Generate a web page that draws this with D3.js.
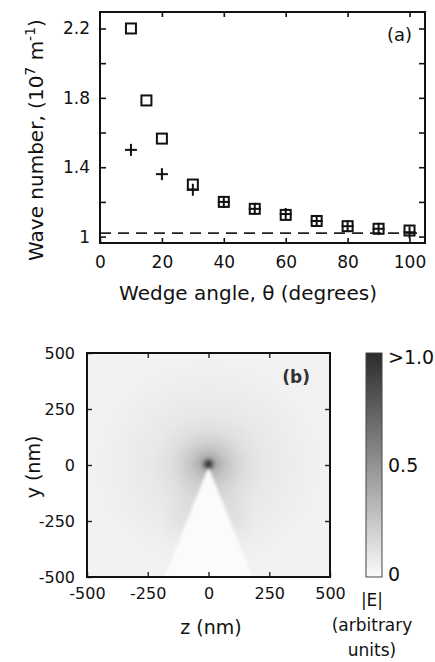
<!DOCTYPE html>
<html>
<head>
<meta charset="utf-8">
<script src="https://d3js.org/d3.v7.min.js"></script>
<style>
  body { margin: 0; padding: 0; background: #fff; overflow: hidden; }
  svg text { font-family: 'DejaVu Sans', sans-serif; fill: #111; }
</style>
</head>
<body>
<svg id="chart" width="435" height="662"></svg>
<script>
// ---- panel (a) data: wave number vs wedge angle
var squareAngles = [10, 15, 20, 30, 40, 50, 60, 70, 80, 90, 100];
var squareK = [2.20, 1.785, 1.565, 1.30, 1.20, 1.16, 1.125, 1.09, 1.06, 1.045, 1.035];
var crossAngles = [10, 20, 30, 40, 50, 60, 70, 80, 90, 100];
var crossK = [1.50, 1.36, 1.27, 1.20, 1.16, 1.13, 1.09, 1.06, 1.045, 1.025];
var dashK = 1.02;
var xTicksA = [0, 20, 40, 60, 80, 100];
var yTicksA = [1.0, 1.2, 1.4, 1.6, 1.8, 2.0, 2.2];
var yLabelsA = [1.0, 1.4, 1.8, 2.2];

// ---- panel (b) data: |E| around the wedge tip
var fieldR = [0, 8, 20, 40, 70, 110, 160, 230, 320, 450, 700];     // nm from tip
var fieldE = [0.95, 0.8, 0.58, 0.4, 0.27, 0.19, 0.13, 0.09, 0.07, 0.05, 0.04];
var wedgeAngle = 40;    // degrees
var ticksB = [-500, -250, 0, 250, 500];
var cbarTicks = [0, 0.5, 1.0];
var cbarLabels = ["0", "0.5", ">1.0"];

var svg = d3.select("#chart");

// ================= panel (a) =================
var xA = d3.scaleLinear().domain([0, 105]).range([100, 425]);
var yA = d3.scaleLinear().domain([0.963, 2.295]).range([243, 12]);

var gA = svg.append("g");

gA.append("g")
  .attr("transform", "translate(0,243)")
  .call(d3.axisBottom(xA).tickValues(xTicksA).tickSizeInner(-5).tickSizeOuter(0).tickPadding(13))
  .call(g => g.select(".domain").remove())
  .call(g => g.selectAll("text").style("font-size", "17px"));
gA.append("g")
  .attr("transform", "translate(0,12)")
  .call(d3.axisTop(xA).tickValues(xTicksA.slice(1)).tickSize(-5).tickFormat(""))
  .call(g => g.select(".domain").remove());

gA.append("g")
  .attr("transform", "translate(100,0)")
  .call(d3.axisLeft(yA).tickValues(yTicksA).tickSizeInner(-6).tickSizeOuter(0).tickPadding(10)
        .tickFormat(d => yLabelsA.some(v => Math.abs(v - d) < 1e-9) ? (d === 1 ? "1" : d3.format(".1f")(d)) : ""))
  .call(g => g.select(".domain").remove())
  .call(g => g.selectAll("text").style("font-size", "17px"));
gA.append("g")
  .attr("transform", "translate(425,0)")
  .call(d3.axisRight(yA).tickValues(yTicksA).tickSize(-6).tickFormat(""))
  .call(g => g.select(".domain").remove());

gA.selectAll(".tick line").attr("stroke", "#111").attr("stroke-width", 1.6);

// dashed reference line
gA.append("line")
  .attr("x1", xA(0)).attr("x2", xA(105))
  .attr("y1", yA(dashK)).attr("y2", yA(dashK))
  .attr("stroke", "#222").attr("stroke-width", 1.7)
  .attr("stroke-dasharray", "11,7");

// squares
var sq = 10;
gA.selectAll("rect.sq")
  .data(squareAngles)
  .enter().append("rect")
  .attr("class", "sq")
  .attr("x", (d) => xA(d) - sq / 2)
  .attr("y", (d, i) => yA(squareK[i]) - sq / 2)
  .attr("width", sq).attr("height", sq)
  .attr("fill", "none").attr("stroke", "#111").attr("stroke-width", 2);

// crosses
var cr = 6;
var cross = gA.selectAll("g.cr")
  .data(crossAngles)
  .enter().append("g")
  .attr("class", "cr")
  .attr("transform", (d, i) => "translate(" + xA(d) + "," + yA(crossK[i]) + ")");
cross.append("line").attr("x1", -cr).attr("x2", cr).attr("y1", 0).attr("y2", 0)
  .attr("stroke", "#111").attr("stroke-width", 2);
cross.append("line").attr("x1", 0).attr("x2", 0).attr("y1", -cr).attr("y2", cr)
  .attr("stroke", "#111").attr("stroke-width", 2);

// frame
gA.append("rect")
  .attr("x", 100).attr("y", 12).attr("width", 325).attr("height", 231)
  .attr("fill", "none").attr("stroke", "#111").attr("stroke-width", 2);

gA.append("text").attr("x", 412).attr("y", 41).attr("text-anchor", "end")
  .style("font-size", "18px").text("(a)");

gA.append("text").attr("x", 248).attr("y", 300).attr("text-anchor", "middle")
  .style("font-size", "20px").text("Wedge angle, \u03b8 (degrees)");

var yt = gA.append("text")
  .attr("transform", "translate(43,140) rotate(-90)")
  .attr("text-anchor", "middle")
  .style("font-size", "20px");
yt.append("tspan").text("Wave number, (10");
yt.append("tspan").attr("dy", -8).style("font-size", "14px").text("7");
yt.append("tspan").attr("dy", 8).text(" m");
yt.append("tspan").attr("dy", -8).style("font-size", "14px").text("-1");
yt.append("tspan").attr("dy", 8).text(")");

// ================= panel (b) =================
var xB = d3.scaleLinear().domain([-500, 500]).range([87, 330]);
var yB = d3.scaleLinear().domain([-500, 500]).range([577, 353]);
var col = d3.scaleLinear().domain([0, 1]).range(["#fbfbfb", "#2b2b2b"]).clamp(true);

var defs = svg.append("defs");
defs.append("clipPath").attr("id", "clipB")
  .append("rect").attr("x", 87).attr("y", 353).attr("width", 243).attr("height", 224);

var rMax = d3.max(fieldR);
var rad = defs.append("radialGradient")
  .attr("id", "field")
  .attr("gradientUnits", "userSpaceOnUse")
  .attr("cx", xB(0)).attr("cy", yB(0))
  .attr("r", xB(rMax) - xB(0))
  .attr("gradientTransform", "translate(" + xB(0) + "," + yB(0) + ") scale(1," + (224 / 243) + ") translate(" + (-xB(0)) + "," + (-yB(0)) + ")");
rad.selectAll("stop")
  .data(fieldR)
  .enter().append("stop")
  .attr("offset", d => d / rMax)
  .attr("stop-color", (d, i) => col(fieldE[i]));

defs.append("filter").attr("id", "soft")
  .append("feGaussianBlur").attr("stdDeviation", 1.5);
defs.append("filter").attr("id", "spot")
  .attr("x", "-100%").attr("y", "-100%").attr("width", "300%").attr("height", "300%")
  .append("feGaussianBlur").attr("stdDeviation", 2.2);
defs.append("filter").attr("id", "lobe")
  .attr("x", "-50%").attr("y", "-50%").attr("width", "200%").attr("height", "200%")
  .append("feGaussianBlur").attr("stdDeviation", 9);

var cbg = defs.append("linearGradient").attr("id", "cbar")
  .attr("x1", 0).attr("y1", 1).attr("x2", 0).attr("y2", 0);
cbg.selectAll("stop").data(cbarTicks).enter().append("stop")
  .attr("offset", d => d).attr("stop-color", d => col(d));

var gB = svg.append("g");
var heat = gB.append("g").attr("clip-path", "url(#clipB)");
heat.append("rect").attr("x", 87).attr("y", 353).attr("width", 243).attr("height", 224)
  .attr("fill", "url(#field)");

// darker lobes along both wedge faces
var half = wedgeAngle / 2 * Math.PI / 180;
var L = 260;
[-1, 1].forEach(function (s) {
  heat.append("line")
    .attr("x1", xB(0)).attr("y1", yB(0))
    .attr("x2", xB(s * Math.tan(half) * L + s * 25)).attr("y2", yB(-L))
    .attr("stroke", col(0.22)).attr("stroke-width", 16).attr("stroke-opacity", 0.5)
    .attr("stroke-linecap", "round")
    .attr("filter", "url(#lobe)");
});

// the wedge itself (field-free, white)
var depth = 700;
heat.append("path")
  .attr("d", d3.line()([
    [xB(0), yB(0) + 2],
    [xB(-Math.tan(half) * depth), yB(-depth)],
    [xB(Math.tan(half) * depth), yB(-depth)]
  ]) + "Z")
  .attr("fill", col(0.0))
  .attr("filter", "url(#soft)");

// dark hot spot at the tip
heat.append("circle").attr("cx", xB(0)).attr("cy", yB(0) - 1).attr("r", 4)
  .attr("fill", col(0.95)).attr("filter", "url(#spot)");

var fmt = d => String(d);
gB.append("g")
  .attr("transform", "translate(0,577)")
  .call(d3.axisBottom(xB).tickValues(ticksB).tickFormat(fmt).tickSizeInner(-5).tickSizeOuter(0).tickPadding(11))
  .call(g => g.select(".domain").remove())
  .call(g => g.selectAll("text").style("font-size", "16px"));
gB.append("g")
  .attr("transform", "translate(0,353)")
  .call(d3.axisTop(xB).tickValues(ticksB.slice(1, 4)).tickSize(-5).tickFormat(""))
  .call(g => g.select(".domain").remove());
gB.append("g")
  .attr("transform", "translate(87,0)")
  .call(d3.axisLeft(yB).tickValues(ticksB).tickFormat(fmt).tickSizeInner(-5).tickSizeOuter(0).tickPadding(12))
  .call(g => g.select(".domain").remove())
  .call(g => g.selectAll("text").style("font-size", "16px"));
gB.append("g")
  .attr("transform", "translate(330,0)")
  .call(d3.axisRight(yB).tickValues(ticksB.slice(1, 4)).tickSize(-5).tickFormat(""))
  .call(g => g.select(".domain").remove());
gB.selectAll(".tick line").attr("stroke", "#222").attr("stroke-width", 1.4);

gB.append("rect")
  .attr("x", 87).attr("y", 353).attr("width", 243).attr("height", 224)
  .attr("fill", "none").attr("stroke", "#111").attr("stroke-width", 2);

gB.append("text").attr("x", 310).attr("y", 383).attr("text-anchor", "end")
  .style("font-size", "17px").style("font-weight", "bold").style("fill", "#333").text("(b)");

gB.append("text").attr("x", 211).attr("y", 634).attr("text-anchor", "middle")
  .style("font-size", "19px").text("z (nm)");
gB.append("text").attr("transform", "translate(40,467) rotate(-90)")
  .attr("text-anchor", "middle").style("font-size", "19px").text("y (nm)");

// colour bar
var cy = d3.scaleLinear().domain([0, 1]).range([577, 353]);
gB.append("rect").attr("x", 366).attr("y", 353).attr("width", 16).attr("height", 224)
  .attr("fill", "url(#cbar)").attr("stroke", "#444").attr("stroke-width", 1);
gB.selectAll("text.cb")
  .data(cbarTicks)
  .enter().append("text")
  .attr("class", "cb")
  .attr("x", 388)
  .attr("y", d => cy(d))
  .attr("dy", (d, i) => i === 0 ? "0.2em" : (i === 2 ? "0.6em" : "0.35em"))
  .style("font-size", "19px")
  .text((d, i) => cbarLabels[i]);

var unitLines = ["|E|", "(arbitrary", "units)"];
gB.selectAll("text.un")
  .data(unitLines)
  .enter().append("text")
  .attr("class", "un")
  .attr("x", 372)
  .attr("y", (d, i) => 606 + i * 25)
  .attr("text-anchor", "middle")
  .style("font-size", "17px")
  .text(d => d);
</script>
</body>
</html>
